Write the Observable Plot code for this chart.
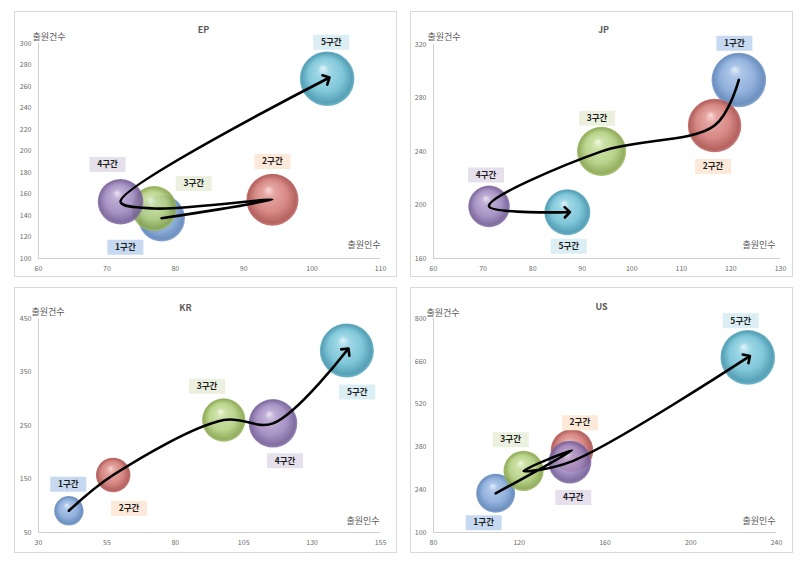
<!DOCTYPE html>
<html>
<head>
<meta charset="utf-8">
<script src="https://cdn.jsdelivr.net/npm/d3@7"></script>
<script src="https://cdn.jsdelivr.net/npm/@observablehq/plot@0.6"></script>
<style>
  html, body { margin: 0; padding: 0; background: #fff; }
  body { width: 806px; height: 566px; position: relative; overflow: hidden;
         font-family: "Noto Sans CJK KR", "Noto Sans", sans-serif; }
  .panel { position: absolute; width: 383px; height: 266px; background: #fff;
           outline: 1px solid #d9d9d9; outline-offset: -1px; }
  .panel svg { display: block; overflow: visible; }
</style>
</head>
<body>
<svg width="0" height="0" style="position:absolute;left:0;top:0"><defs id="sphereDefs"></defs></svg>

<script>
// ---------------- data ----------------
const segments = ["1구간", "2구간", "3구간", "4구간", "5구간"];

// EP
const epApplicants   = [78.0, 94.2, 76.9, 72.0, 102.2];   // 출원인수
const epApplications = [137.4, 154.7, 146.5, 152.8, 267.2]; // 출원건수
const epBubble       = [73, 91, 68, 70, 100];
const epLabelX       = [72.7, 94.2, 82.7, 70.1, 102.8];
const epLabelY       = [110.5, 190.2, 169.8, 187.4, 301.2];
const epXTicks       = [60, 70, 80, 90, 100, 110];
const epYTicks       = [100, 120, 140, 160, 180, 200, 220, 240, 260, 280, 300];

// JP
const jpApplicants   = [121.6, 116.7, 93.9, 71.2, 87.0];
const jpApplications = [293.5, 259.4, 240.1, 199.0, 194.6];
const jpBubble       = [100, 96, 81, 58, 71];
const jpLabelX       = [120.7, 116.4, 93.0, 70.6, 87.3];
const jpLabelY       = [321.0, 228.8, 264.9, 222.4, 169.1];
const jpXTicks       = [60, 70, 80, 90, 100, 110, 120, 130];
const jpYTicks       = [160, 200, 240, 280, 320];

// KR
const krApplicants   = [41.1, 57.3, 97.7, 115.7, 142.7];
const krApplications = [90.6, 157.5, 260.3, 254.0, 390.2];
const krBubble       = [29, 40, 63, 79, 98];
const krLabelX       = [40.9, 63.1, 91.6, 120.1, 146.5];
const krLabelY       = [140.0, 95.2, 323.3, 184.0, 312.6];
const krXTicks       = [30, 55, 80, 105, 130, 155];
const krYTicks       = [50, 150, 250, 350, 450];

// US
const usApplicants   = [109.0, 144.6, 122.0, 143.6, 226.6];
const usApplications = [228.2, 368.4, 301.6, 330.2, 672.7];
const usBubble       = [51, 61, 54, 62, 100];
const usLabelX       = [103.4, 148.3, 116.0, 145.2, 223.3];
const usLabelY       = [132.0, 459.0, 403.7, 214.5, 792.4];
const usXTicks       = [80, 120, 160, 200, 240];
const usYTicks       = [100, 240, 380, 520, 660, 800];

const xAxisLabel = "출원인수";
const yAxisLabel = "출원건수";

// ---------------- styles ----------------
const sphereStops = [
  ["#dfeaf8", "#a3c0e6", "#86a9d8", "#5d84b9", "#7c9fcc"],
  ["#f8d6d4", "#e29b97", "#d27c78", "#ad524e", "#c06e6a"],
  ["#f0f7dd", "#c8de9f", "#b2cf7f", "#88a64e", "#a0bd66"],
  ["#e9e1f3", "#b8a5d0", "#9f88bf", "#745d97", "#8b76aa"],
  ["#def3f9", "#95d3e3", "#74c2d6", "#4496ae", "#62b0c5"]
];
const boxFill = ["#c6d9f1", "#fde9d9", "#ebf1de", "#e5e0ec", "#dbeef4"];

const defs = d3.select("#sphereDefs");
sphereStops.forEach((c, i) => {
  const g = defs.append("radialGradient")
    .attr("id", "sphere" + (i + 1))
    .attr("cx", "50%").attr("cy", "50%").attr("r", "50%")
    .attr("fx", "42%").attr("fy", "30%");
  g.append("stop").attr("offset", "0%").attr("stop-color", c[0]);
  g.append("stop").attr("offset", "22%").attr("stop-color", c[1]);
  g.append("stop").attr("offset", "62%").attr("stop-color", c[2]);
  g.append("stop").attr("offset", "92%").attr("stop-color", c[3]);
  g.append("stop").attr("offset", "100%").attr("stop-color", c[4]);
});

const boxSymbol = { draw(ctx) { ctx.rect(-18, -7.5, 36, 15); } };
const FONT = '"Noto Sans CJK KR", "Noto Sans", sans-serif';

function makePanel(cfg) {
  const rows = segments.map((s, i) => ({
    seg: s, i,
    x: cfg.x[i], y: cfg.y[i], size: cfg.size[i],
    lx: cfg.lx[i], ly: cfg.ly[i]
  }));
  const xDomain = [cfg.xTicks[0], cfg.xTicks[cfg.xTicks.length - 1]];
  const yDomain = [cfg.yTicks[0], cfg.yTicks[cfg.yTicks.length - 1]];
  const chart = Plot.plot({
    width: 383, height: 266,
    marginLeft: cfg.m[0], marginRight: cfg.m[1], marginTop: cfg.m[2], marginBottom: cfg.m[3],
    style: { fontFamily: FONT, fontSize: "7px", color: "#6b6b6b", background: "transparent", overflow: "visible" },
    x: { domain: xDomain, ticks: cfg.xTicks, tickSize: 0, tickPadding: 8, label: null },
    y: { domain: yDomain, ticks: cfg.yTicks, tickSize: 0, tickPadding: 7, label: null },
    r: { type: "sqrt", domain: [0, 100], range: [0, 27.3] },
    color: { type: "identity" },
    marks: [
      Plot.ruleX([xDomain[0]], { stroke: "#cfcfcf", strokeWidth: 1 }),
      Plot.ruleY([yDomain[0]], { stroke: "#cfcfcf", strokeWidth: 1 }),
      Plot.dot(rows, { x: "x", y: "y", r: "size", sort: null,
        fill: d => `url(#sphere${d.i + 1})`, fillOpacity: 0.9, stroke: "none" }),
      Plot.line(rows, { x: "x", y: "y", curve: "catmull-rom",
        stroke: "#000", strokeWidth: 2.6, markerEnd: "arrow" }),
      Plot.dot(rows, { x: "lx", y: "ly", symbol: boxSymbol, r: 5,
        fill: d => boxFill[d.i], stroke: "none" }),
      Plot.text(rows, { x: "lx", y: "ly", text: "seg", fontWeight: "bold",
        fontSize: 8.5, fill: "#1e1e1e" }),
      Plot.text([cfg.title], { text: d => d, frameAnchor: "top-left", dx: cfg.t[0], dy: cfg.t[1],
        textAnchor: "middle", fontWeight: "bold", fontSize: 9, fill: "#595959" }),
      Plot.text([yAxisLabel], { text: d => d, frameAnchor: "top-left", dx: cfg.yl[0], dy: cfg.yl[1],
        textAnchor: "start", fontSize: 9, fill: "#595959" }),
      Plot.text([xAxisLabel], { text: d => d, frameAnchor: "bottom-right", dx: cfg.xl[0], dy: cfg.xl[1],
        textAnchor: "end", fontSize: 9, fill: "#595959" })
    ]
  });
  const div = document.createElement("div");
  div.className = "panel";
  div.style.left = cfg.left + "px";
  div.style.top = cfg.top + "px";
  div.appendChild(chart);
  document.body.appendChild(div);
}

makePanel({ title: "EP", left: 14, top: 11, m: [24, 17, 32, 19],
  x: epApplicants, y: epApplications, size: epBubble, lx: epLabelX, ly: epLabelY,
  xTicks: epXTicks, yTicks: epYTicks, t: [165, -17], yl: [-6, -10], xl: [0, -11] });
makePanel({ title: "JP", left: 410, top: 11, m: [23, 13, 33, 19],
  x: jpApplicants, y: jpApplications, size: jpBubble, lx: jpLabelX, ly: jpLabelY,
  xTicks: jpXTicks, yTicks: jpYTicks, t: [170, -18], yl: [-6, -11], xl: [-5, -11] });
makePanel({ title: "KR", left: 14, top: 287, m: [24, 17, 31, 21],
  x: krApplicants, y: krApplications, size: krBubble, lx: krLabelX, ly: krLabelY,
  xTicks: krXTicks, yTicks: krYTicks, t: [147, -14], yl: [-7, -10], xl: [-1, -9] });
makePanel({ title: "US", left: 410, top: 287, m: [23, 17, 31, 21],
  x: usApplicants, y: usApplications, size: usBubble, lx: usLabelX, ly: usLabelY,
  xTicks: usXTicks, yTicks: usYTicks, t: [168, -15], yl: [-7, -9], xl: [-1, -9] });
</script>
</body>
</html>
